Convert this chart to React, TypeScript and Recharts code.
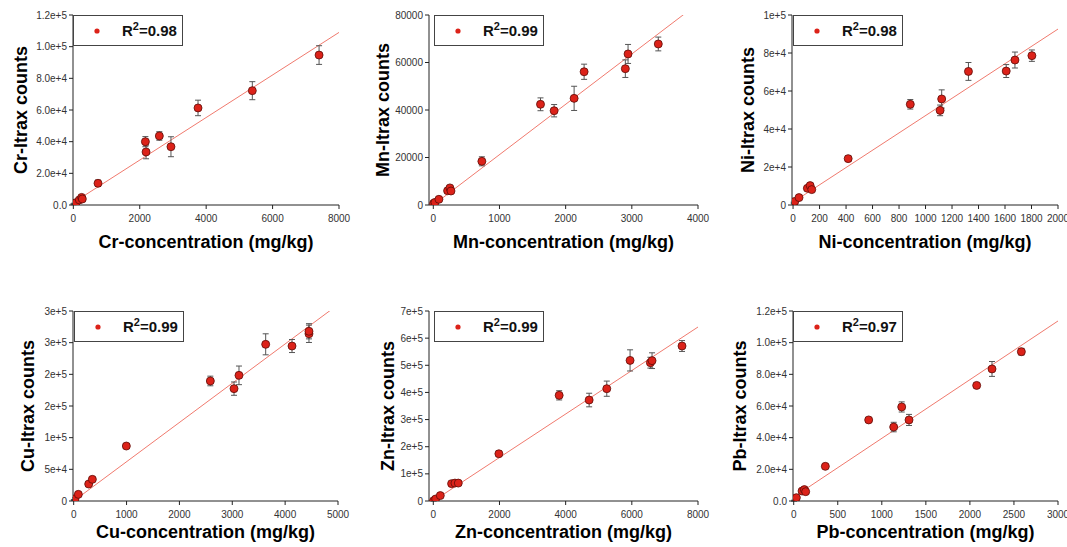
import {
  ScatterChart,
  Scatter,
  XAxis,
  YAxis,
  ErrorBar,
  ReferenceLine,
  Legend,
} from "recharts";

// ---- Cr ----
const crConc = [5, 20, 80, 180, 250, 270, 743, 2170, 2190, 2590, 2940, 3755, 5390, 7400];
const crCounts = [500, 800, 1500, 3200, 4800, 3800, 13700, 40000, 33500, 43600, 36800, 61300, 72200, 94700];
const crErr = [300, 300, 400, 600, 1000, 800, 2000, 3200, 4300, 2700, 6300, 4900, 5700, 5900];
const crXTicks = [0, 2000, 4000, 6000, 8000];
const crYTicks = [0, 20000, 40000, 60000, 80000, 100000, 120000];
const crYLabels = ["0.0", "2.0e+4", "4.0e+4", "6.0e+4", "8.0e+4", "1.0e+5", "1.2e+5"];
const crFitX = [0, 8000];
const crFitY = [1500, 109000];

// ---- Mn ----
const mnConc = [5, 25, 85, 216, 251, 267, 734, 1620, 1826, 2128, 2279, 2902, 2943, 3400];
const mnCounts = [700, 1100, 2400, 6000, 7200, 5900, 18400, 42400, 39700, 44900, 56100, 57400, 63600, 67800];
const mnErr = [300, 400, 500, 700, 800, 700, 1900, 2700, 2600, 5100, 3200, 3700, 4000, 2900];
const mnXTicks = [0, 1000, 2000, 3000, 4000];
const mnYTicks = [0, 20000, 40000, 60000, 80000];
const mnYLabels = ["0", "20000", "40000", "60000", "80000"];
const mnFitX = [0, 4000];
const mnFitY = [0, 84800];

// ---- Ni ----
const niConc = [5, 13, 45, 108, 129, 141, 416, 885, 1110, 1122, 1324, 1609, 1675, 1803];
const niCounts = [1200, 1900, 3900, 8800, 10200, 8100, 24400, 53000, 49800, 55800, 70300, 70500, 76300, 78600];
const niErr = [300, 400, 600, 900, 1000, 900, 1400, 2500, 2800, 4800, 4700, 3400, 4200, 3000];
const niXTicks = [0, 200, 400, 600, 800, 1000, 1200, 1400, 1600, 1800, 2000];
const niYTicks = [0, 20000, 40000, 60000, 80000, 100000];
const niYLabels = ["0", "2e+4", "4e+4", "6e+4", "8e+4", "1e+5"];
const niFitX = [0, 2000];
const niFitY = [1500, 92600];

// ---- Cu ----
const cuConc = [3, 25, 88, 284, 353, 996, 2585, 3033, 3127, 3632, 4130, 4451, 4451];
const cuCounts = [1600, 3700, 10500, 26800, 34200, 86800, 189500, 177400, 198400, 247400, 244700, 264000, 268000];
const cuErr = [800, 1200, 2000, 3000, 3000, 4000, 7600, 10500, 14700, 16600, 10300, 13700, 12000];
const cuXTicks = [0, 1000, 2000, 3000, 4000, 5000];
const cuYTicks = [0, 50000, 100000, 150000, 200000, 250000, 300000];
const cuYLabels = ["0", "5e+4", "1e+5", "2e+5", "2e+5", "3e+5", "3e+5"];
const cuFitX = [0, 5000];
const cuFitY = [0, 310000];

// ---- Zn ----
const znConc = [10, 70, 211, 553, 654, 755, 1982, 3804, 4710, 5243, 5947, 6561, 6611, 7517];
const znCounts = [1200, 7400, 20000, 64000, 66000, 66000, 174000, 389300, 372000, 413800, 518000, 509600, 517000, 571000];
const znErr = [1500, 2500, 4000, 5000, 5000, 5000, 10000, 17000, 25000, 28000, 39000, 20000, 29000, 20000];
const znXTicks = [0, 2000, 4000, 6000, 8000];
const znYTicks = [0, 100000, 200000, 300000, 400000, 500000, 600000, 700000];
const znYLabels = ["0", "1e+5", "2e+5", "3e+5", "4e+5", "5e+5", "6e+5", "7e+5"];
const znFitX = [0, 8000];
const znFitY = [0, 641000];

// ---- Pb ----
const pbConc = [4, 30, 95, 121, 136, 359, 851, 1135, 1226, 1309, 2077, 2251, 2584];
const pbCounts = [200, 2100, 6300, 7200, 5900, 21900, 51200, 46700, 59400, 51200, 73000, 83400, 94300];
const pbErr = [300, 500, 800, 900, 800, 1200, 1300, 3000, 3200, 3500, 1500, 4700, 2100];
const pbXTicks = [0, 500, 1000, 1500, 2000, 2500, 3000];
const pbYTicks = [0, 20000, 40000, 60000, 80000, 100000, 120000];
const pbYLabels = ["0.0", "2.0e+4", "4.0e+4", "6.0e+4", "8.0e+4", "1.0e+5", "1.2e+5"];
const pbFitX = [0, 3000];
const pbFitY = [2500, 113700];

const FONT = "Arial, 'Liberation Sans', sans-serif";
const YW = 40;
const XH = 45;

const toRows = (xs: number[], ys: number[], es: number[]) =>
  xs.map((x, i) => ({ x, y: ys[i], err: es[i] }));

const Dot = (p: any) => (
  <circle cx={p.cx} cy={p.cy} r={4} fill="#dc2219" stroke="#5c0c08" strokeWidth={0.8} />
);

const R2Legend = ({ r2 }: { r2: string }) => (
  <div
    style={{
      width: 110,
      height: 31,
      boxSizing: "border-box",
      border: "1px solid #444",
      background: "#fff",
      position: "relative",
      fontFamily: FONT,
    }}
  >
    <svg width={10} height={10} style={{ position: "absolute", left: 18, top: 10 }}>
      <circle cx={5} cy={5} r={2.6} fill="#dc2219" />
    </svg>
    <span
      style={{
        position: "absolute",
        left: 48,
        top: 6,
        fontSize: 15,
        fontWeight: "bold",
        lineHeight: "18px",
        color: "#111",
      }}
    >
      R<sup style={{ fontSize: 11, lineHeight: 0 }}>2</sup>=
      {r2}
    </span>
  </div>
);

type Panel = {
  el: string;
  rows: { x: number; y: number; err: number }[];
  xDomain: number[];
  xTicks: number[];
  yTicks: number[];
  yLabels: string[];
  fitX: number[];
  fitY: number[];
  r2: string;
  box: {
    ox: number; oy: number; w: number; h: number;
    L: number; R: number; T: number; B: number;
    yLabelX: number; xLabelBase: number; legendX: number;
  };
};

const panels: Panel[] = [
  {
    el: "Cr", rows: toRows(crConc, crCounts, crErr), xDomain: [-10, 8000],
    xTicks: crXTicks, yTicks: crYTicks, yLabels: crYLabels, fitX: crFitX, fitY: crFitY, r2: "0.98",
    box: { ox: 0, oy: 0, w: 355, h: 270, L: 73, R: 339, T: 15, B: 205, yLabelX: 21, xLabelBase: 248, legendX: 73 },
  },
  {
    el: "Mn", rows: toRows(mnConc, mnCounts, mnErr), xDomain: [-65, 4000],
    xTicks: mnXTicks, yTicks: mnYTicks, yLabels: mnYLabels, fitX: mnFitX, fitY: mnFitY, r2: "0.99",
    box: { ox: 355, oy: 0, w: 355, h: 270, L: 429, R: 698, T: 15, B: 205, yLabelX: 383, xLabelBase: 248, legendX: 434 },
  },
  {
    el: "Ni", rows: toRows(niConc, niCounts, niErr), xDomain: [-8, 2000],
    xTicks: niXTicks, yTicks: niYTicks, yLabels: niYLabels, fitX: niFitX, fitY: niFitY, r2: "0.98",
    box: { ox: 710, oy: 0, w: 357, h: 270, L: 792, R: 1058, T: 15, B: 205, yLabelX: 748, xLabelBase: 248, legendX: 793 },
  },
  {
    el: "Cu", rows: toRows(cuConc, cuCounts, cuErr), xDomain: [-13, 5000],
    xTicks: cuXTicks, yTicks: cuYTicks, yLabels: cuYLabels, fitX: cuFitX, fitY: cuFitY, r2: "0.99",
    box: { ox: 0, oy: 270, w: 355, h: 277, L: 73, R: 338, T: 311, B: 501, yLabelX: 28, xLabelBase: 538, legendX: 74 },
  },
  {
    el: "Zn", rows: toRows(znConc, znCounts, znErr), xDomain: [-130, 8000],
    xTicks: znXTicks, yTicks: znYTicks, yLabels: znYLabels, fitX: znFitX, fitY: znFitY, r2: "0.99",
    box: { ox: 355, oy: 270, w: 355, h: 277, L: 429, R: 698, T: 311, B: 501, yLabelX: 388, xLabelBase: 538, legendX: 434 },
  },
  {
    el: "Pb", rows: toRows(pbConc, pbCounts, pbErr), xDomain: [-8, 3000],
    xTicks: pbXTicks, yTicks: pbYTicks, yLabels: pbYLabels, fitX: pbFitX, fitY: pbFitY, r2: "0.97",
    box: { ox: 710, oy: 270, w: 357, h: 277, L: 793, R: 1058, T: 311, B: 501, yLabelX: 740, xLabelBase: 538, legendX: 793 },
  },
];

const CalibChart = ({ p }: { p: Panel }) => {
  const b = p.box;
  const margin = {
    top: b.T - b.oy,
    right: b.ox + b.w - b.R,
    left: b.L - b.ox - YW,
    bottom: b.oy + b.h - b.B - XH,
  };
  const yDomain = [p.yTicks[0], p.yTicks[p.yTicks.length - 1]];
  const tick = { fontSize: 10, fill: "#333", fontFamily: FONT };
  const title = { fontSize: 18, fontWeight: "bold", fill: "#000", fontFamily: FONT };

  return (
    <div style={{ position: "absolute", left: b.ox, top: b.oy }}>
      <ScatterChart width={b.w} height={b.h} margin={margin}>
        <XAxis
          type="number"
          dataKey="x"
          domain={p.xDomain}
          ticks={p.xTicks}
          interval={0}
          allowDataOverflow
          height={XH}
          tickSize={4}
          tickMargin={6}
          tick={tick}
          stroke="#222"
          label={{
            value: `${p.el}-concentration (mg/kg)`,
            position: "insideBottom",
            offset: b.B + XH - b.xLabelBase,
            style: title,
          }}
        />
        <YAxis
          type="number"
          dataKey="y"
          domain={yDomain}
          ticks={p.yTicks}
          interval={0}
          allowDataOverflow
          width={YW}
          tickSize={4}
          tickMargin={2}
          tick={tick}
          stroke="#222"
          tickFormatter={(v: number) => p.yLabels[p.yTicks.indexOf(v)]}
          label={{
            value: `${p.el}-Itrax counts`,
            angle: -90,
            position: "insideLeft",
            offset: b.yLabelX - b.ox - margin.left,
            style: { ...title, textAnchor: "middle" },
          }}
        />
        <XAxis
          xAxisId="top"
          orientation="top"
          type="number"
          domain={p.xDomain}
          height={0}
          tick={false}
          tickLine={false}
          stroke="#222"
        />
        <YAxis
          yAxisId="right"
          orientation="right"
          type="number"
          domain={yDomain}
          width={0}
          tick={false}
          tickLine={false}
          stroke="#222"
        />
        <ReferenceLine
          segment={[
            { x: p.fitX[0], y: p.fitY[0] },
            { x: p.fitX[1], y: p.fitY[1] },
          ]}
          stroke="#f07a6e"
          strokeWidth={1}
          ifOverflow="hidden"
        />
        <Scatter
          name={`${p.el}`}
          data={p.rows}
          shape={Dot}
          isAnimationActive={false}
        >
          <ErrorBar dataKey="err" direction="y" width={3} stroke="#555" strokeWidth={1} />
        </Scatter>
        <Legend
          layout="horizontal"
          verticalAlign="middle"
          align="center"
          width={110}
          height={31}
          wrapperStyle={{ left: b.legendX - b.ox, top: b.T - b.oy }}
          content={() => <R2Legend r2={p.r2} />}
        />
      </ScatterChart>
    </div>
  );
};

export default function App() {
  return (
    <div
      style={{
        position: "absolute",
        left: 0,
        top: 0,
        width: 1067,
        height: 547,
        background: "#fff",
        fontFamily: FONT,
      }}
    >
      {panels.map((p) => (
        <CalibChart key={p.el} p={p} />
      ))}
    </div>
  );
}
